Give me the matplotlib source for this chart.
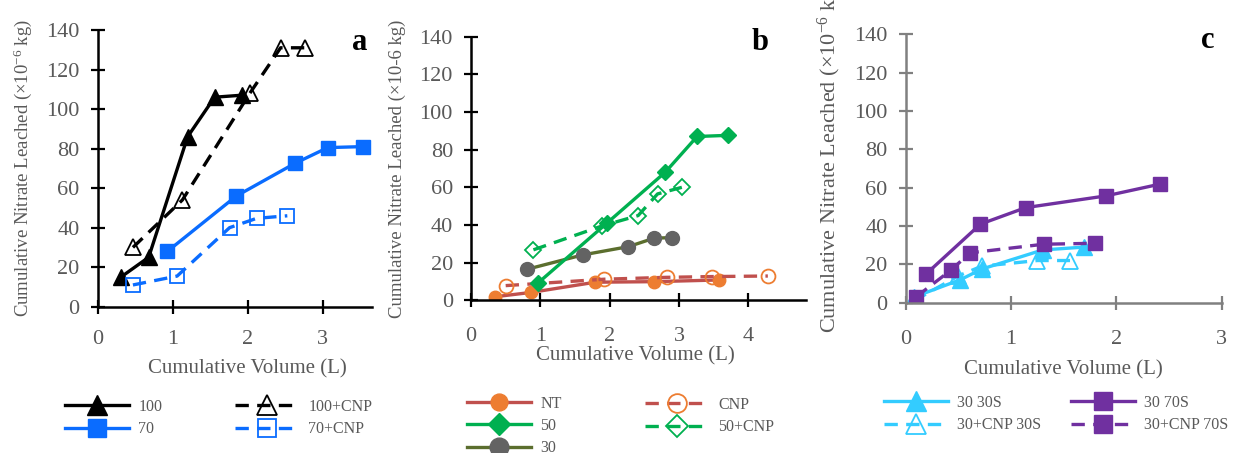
import numpy as np
import matplotlib
matplotlib.use('Agg')
import matplotlib.pyplot as plt

plt.rcParams['font.family'] = ['Liberation Serif', 'DejaVu Serif']
plt.rcParams['mathtext.fontset'] = 'custom'
plt.rcParams['mathtext.rm'] = 'Liberation Serif'
plt.rcParams['mathtext.it'] = 'Liberation Serif:italic'

# panel a
a_100_x = [0.31, 0.68, 1.20, 1.56, 1.92]
a_100_y = [15, 25, 86, 106, 107]
a_100cnp_x = [0.47, 1.13, 2.03, 2.44, 2.76]
a_100cnp_y = [30, 54, 108, 131, 131]
a_70_x = [0.93, 1.85, 2.63, 3.07, 3.54]
a_70_y = [28, 56, 72.5, 80.5, 81]
a_70cnp_x = [0.47, 1.06, 1.76, 2.12, 2.53]
a_70cnp_y = [11, 15.5, 40, 44.7, 46]

# panel b
b_nt_x = [0.35, 0.87, 1.79, 2.64, 3.58]
b_nt_y = [1.9, 4.2, 9.6, 9.9, 10.8]
b_cnp_x = [0.50, 1.92, 2.82, 3.47, 4.28]
b_cnp_y = [7.8, 11.2, 12.2, 12.6, 12.9]
b_50_x = [0.96, 1.96, 2.80, 3.26, 3.70]
b_50_y = [9, 41, 68, 87, 87.6]
b_50cnp_x = [0.90, 1.89, 2.41, 2.69, 3.04]
b_50cnp_y = [26.8, 39.5, 45, 56.5, 60]
b_30_x = [0.81, 1.61, 2.27, 2.64, 2.90]
b_30_y = [16.5, 24.1, 28.5, 33, 33.3]

# panel c
c_70s_x = [0.19, 0.71, 1.14, 1.90, 2.41]
c_70s_y = [14.8, 41, 49.6, 55.7, 61.8]
c_70scnp_x = [0.10, 0.43, 0.61, 1.31, 1.80]
c_70scnp_y = [3.1, 17, 26, 30.5, 31]
c_30s_x = [0.08, 0.52, 0.72, 1.30, 1.69]
c_30s_y = [3, 12, 17.5, 27.5, 29]
c_30scnp_x = [0.08, 0.50, 0.72, 1.25, 1.56]
c_30scnp_y = [1, 14, 19, 22, 22]

yticks = [0, 20, 40, 60, 80, 100, 120, 140]

gray = '#595959'
black = '#000000'
blue = '#0A6CFF'
red = '#C0504D'
orange = '#ED7D31'
green = '#00B050'
olive = '#5B6E2E'
dgray = '#636363'
cyan = '#33CCFF'
purple = '#7030A0'

lw = 2.4
dash = (0, (4, 2.5))

fig = plt.figure(figsize=(12.34, 4.53), dpi=100)
W, H = 1234.0, 453.0


def make_ax(l, r, t, b):
    return fig.add_axes([l / W, 1 - b / H, (r - l) / W, (b - t) / H])


def style(ax, spc, xmax, xticks, ylab, ylx, yly, xlx, xly, ylsize, xpad):
    ax.set_ylim(0, 140)
    ax.set_xlim(0, xmax)
    ax.set_yticks(yticks)
    ax.set_xticks(xticks)
    for s in ['top', 'right']:
        ax.spines[s].set_visible(False)
    for s in ['left', 'bottom']:
        ax.spines[s].set_color(spc)
        ax.spines[s].set_linewidth(1.8)
        ax.spines[s].set_clip_on(False)
    ax.tick_params(axis='both', direction='inout', length=10, width=1.6, color=spc,
                   labelsize=16, labelcolor=gray)
    ax.tick_params(axis='y', pad=8)
    ax.tick_params(axis='x', pad=xpad)
    ax.set_ylabel(ylab, fontsize=ylsize, color=gray, va='center')
    ax.yaxis.set_label_coords(ylx, yly)
    ax.set_xlabel('Cumulative Volume (L)', fontsize=15, color=gray, va='center')
    ax.xaxis.set_label_coords(xlx, xly)


def letter(ax, s, x, y):
    ax.text(x, H - y, s, transform=None, fontsize=22, fontweight='bold',
            ha='center', va='center')


# ---------- a ----------
ax1 = make_ax(97.7, 372, 30, 306.7)
h100, = ax1.plot(a_100_x, a_100_y, '-', color=black, lw=lw, marker='^', ms=11, mfc=black, mec=black)
h100c, = ax1.plot(a_100cnp_x, a_100cnp_y, color=black, lw=lw, ls=dash, marker='^', ms=11, mfc='none', mec=black, mew=1.3)
h70, = ax1.plot(a_70_x, a_70_y, '-', color=blue, lw=lw, marker='s', ms=10, mfc=blue, mec=blue)
h70c, = ax1.plot(a_70cnp_x, a_70cnp_y, color=blue, lw=lw, ls=dash, marker='s', ms=10, mfc='none', mec=blue, mew=1.3)
style(ax1, black, 3.66, [0, 1, 2, 3],
      'Cumulative Nitrate Leached (×10$^{-6}$ kg)', -0.272, 0.5, 0.546, -0.225, 13.5, 12)
letter(ax1, 'a', 360, 43)

# ---------- b ----------
ax2 = make_ax(471, 806, 36.7, 300.3)
hnt, = ax2.plot(b_nt_x, b_nt_y, '-', color=red, lw=lw, marker='o', ms=9, mfc=orange, mec=orange)
hcnp, = ax2.plot(b_cnp_x, b_cnp_y, color=red, lw=lw, ls=dash, marker='o', ms=10, mfc='none', mec=orange, mew=1.3)
h30, = ax2.plot(b_30_x, b_30_y, '-', color=olive, lw=lw, marker='o', ms=10, mfc=dgray, mec=dgray)
h50, = ax2.plot(b_50_x, b_50_y, '-', color=green, lw=lw, marker='D', ms=8, mfc=green, mec=green)
h50c, = ax2.plot(b_50cnp_x, b_50cnp_y, color=green, lw=lw, ls=dash, marker='D', ms=8, mfc='none', mec=green, mew=1.3)
style(ax2, black, 4.83, [0, 1, 2, 3, 4],
      'Cumulative Nitrate Leached (×10-6 kg)', -0.221, 0.5, 0.491, -0.21, 13.5, 14)
letter(ax2, 'b', 760, 42)

# ---------- c ----------
ax3 = make_ax(905.7, 1221.7, 34.3, 302.7)
h30s, = ax3.plot(c_30s_x, c_30s_y, '-', color=cyan, lw=lw, marker='^', ms=11, mfc=cyan, mec=cyan)
h30sc, = ax3.plot(c_30scnp_x, c_30scnp_y, color=cyan, lw=lw, ls=dash, marker='^', ms=11, mfc='none', mec=cyan, mew=1.3)
h70s, = ax3.plot(c_70s_x, c_70s_y, '-', color=purple, lw=lw, marker='s', ms=10, mfc=purple, mec=purple)
h70sc, = ax3.plot(c_70scnp_x, c_70scnp_y, color=purple, lw=lw, ls=dash, marker='s', ms=10, mfc=purple, mec=purple)
style(ax3, '#808080', 3, [0, 1, 2, 3],
      'Cumulative Nitrate Leached (×10$^{-6}$ kg)', -0.2396, 0.545, 0.498, -0.251, 16, 15)
letter(ax3, 'c', 1208, 40)


def leg(handles, labels, x, yc):
    lg = fig.legend(handles, labels, loc='center left', bbox_to_anchor=(x / W, 1 - yc / H),
                    frameon=False, fontsize=11.5, handlelength=4.0, handletextpad=0.6,
                    borderpad=0, borderaxespad=0, labelspacing=0.4, markerscale=1.35,
                    labelcolor=gray)
    return lg


leg([h100, h70], ['100', '70'], 65, 418)
leg([h100c, h70c], ['100+CNP', '70+CNP'], 235, 418)
leg([hnt, h50, h30], ['NT', '50', '30'], 466.7, 426)
leg([hcnp, h50c], ['CNP', '50+CNP'], 645, 416)
leg([h30s, h30sc], ['30 30S', '30+CNP 30S'], 884, 414)
leg([h70s, h70sc], ['30 70S', '30+CNP 70S'], 1070.7, 414)

fig.savefig('out.png', dpi=100)
